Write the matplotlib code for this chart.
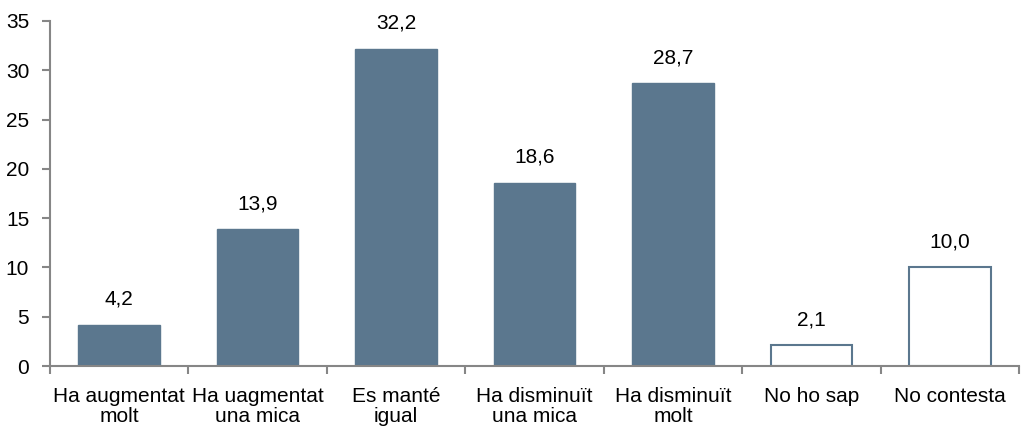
import matplotlib.pyplot as plt
import numpy as np

plt.rcParams['font.family'] = ['Liberation Sans', 'DejaVu Sans']

categories = ['Ha augmentat\nmolt', 'Ha uagmentat\nuna mica', 'Es manté\nigual',
              'Ha disminuït\nuna mica', 'Ha disminuït\nmolt', 'No ho sap', 'No contesta']
values = [4.2, 13.9, 32.2, 18.6, 28.7, 2.1, 10.0]
filled = [True, True, True, True, True, False, False]

bar_color = '#5b778e'
axis_color = '#868686'
fs = 15

fig = plt.figure(figsize=(10.21, 4.26), dpi=100)
ax = fig.add_axes([50 / 1021, 1 - 366 / 426, 969 / 1021, 345 / 426])

x = np.arange(len(values))
for xi, v, f in zip(x, values, filled):
    if f:
        ax.bar(xi, v, width=0.59, color=bar_color, edgecolor=bar_color, linewidth=1)
    else:
        ax.bar(xi, v, width=0.59, color='white', edgecolor=bar_color, linewidth=1.5)
    ax.text(xi, v + 1.6, f'{v:.1f}'.replace('.', ','), ha='center', va='bottom', fontsize=fs)

ax.set_xlim(-0.5, len(values) - 0.5)
ax.set_ylim(0, 35)
ax.set_yticks(range(0, 36, 5))
ax.tick_params(axis='y', labelsize=fs, length=6, color=axis_color, width=1.5, pad=9)

ax.set_xticks(x)
ax.set_xticklabels(categories, fontsize=fs, linespacing=1.05)
ax.tick_params(axis='x', length=0, pad=15)
ax.set_xticks(np.arange(-0.5, len(values)), minor=True)
ax.tick_params(axis='x', which='minor', length=6, color=axis_color, width=1.5)

for s in ['top', 'right']:
    ax.spines[s].set_visible(False)
for s in ['left', 'bottom']:
    ax.spines[s].set_color(axis_color)
    ax.spines[s].set_linewidth(1.5)

fig.savefig('out.png', dpi=100)
